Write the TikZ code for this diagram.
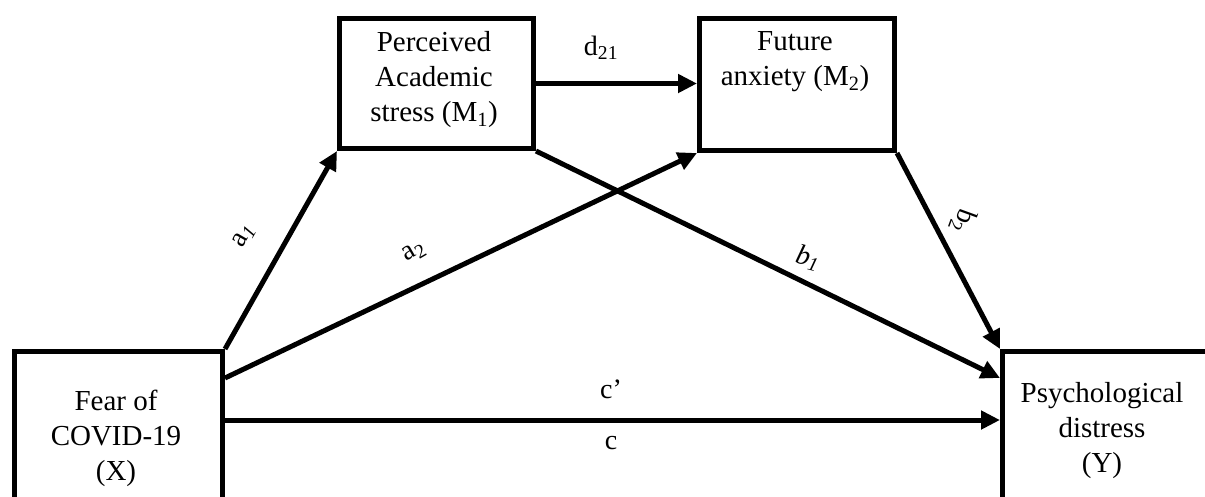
\documentclass[tikz,border=0pt]{standalone}
\usepackage{fontspec}
\setmainfont{Liberation Serif}
\usetikzlibrary{arrows.meta}
\tikzset{
  box/.style={draw, line width=5pt, inner sep=0pt, anchor=north west},
  txt/.style={font=\fontsize{29}{35}\selectfont, align=center, inner sep=0pt},
  lab/.style={font=\fontsize{28}{32}\selectfont, inner sep=0pt},
  conn/.style={line width=5pt, -{Triangle[length=19pt,width=18pt]}}
}
\begin{document}
\begin{tikzpicture}[x=1pt,y=-1pt]
\useasboundingbox (0,0) rectangle (1205,496);
\clip (0,0) rectangle (1205,496);
% boxes
\node[box, minimum width=208pt, minimum height=260pt] (X) at (12,349) {};
\node[box, minimum width=300pt, minimum height=260pt] (Y) at (1000,349) {};
\node[box, minimum width=194pt, minimum height=130pt] (M1) at (337,16) {};
\node[box, minimum width=195pt, minimum height=132pt] (M2) at (697,16) {};
% box texts
\node[txt] (Xt) at (116,438) {Fear of\\COVID-19\\(X)};
\node[txt] (Yt) at (1102,431) {Psychological\\distress\\(Y)};
\node[txt] (M1t) at (434,80) {Perceived\\Academic\\stress (M\textsubscript{1})};
\node[txt] (M2t) at (795,62) {Future\\anxiety (M\textsubscript{2})};
% connectors
\draw[conn] (M1.east) -- (M1.east -| M2.west);
\draw[conn] (X.north east) -- (M1.south west);
\draw[conn] ([yshift=-29pt]X.north east) -- (M2.south west);
\draw[conn] (M1.south east) -- ([yshift=-29pt]Y.north west);
\draw[conn] (M2.south east) -- (Y.north west);
\draw[conn] ([yshift=-71pt]X.north east) -- ([yshift=-71pt]Y.north west);
% labels
\node[lab] (ld) at (601,48) {d\textsubscript{21}};
\node[lab, rotate=60] (la1) at (244,236) {a\textsubscript{\textit{1}}};
\node[lab, rotate=30] (la2) at (414,252) {a\textsubscript{2}};
\node[lab, rotate=-15] (lb1) at (808,258) {\textit{b\textsubscript{1}}};
\node[lab, rotate=-110] (lb2) at (963,221) {b\textsubscript{2}};
\node[lab] (lcp) at (611,389) {c’};
\node[lab] (lc) at (611,443) {c};
\end{tikzpicture}
\end{document}
